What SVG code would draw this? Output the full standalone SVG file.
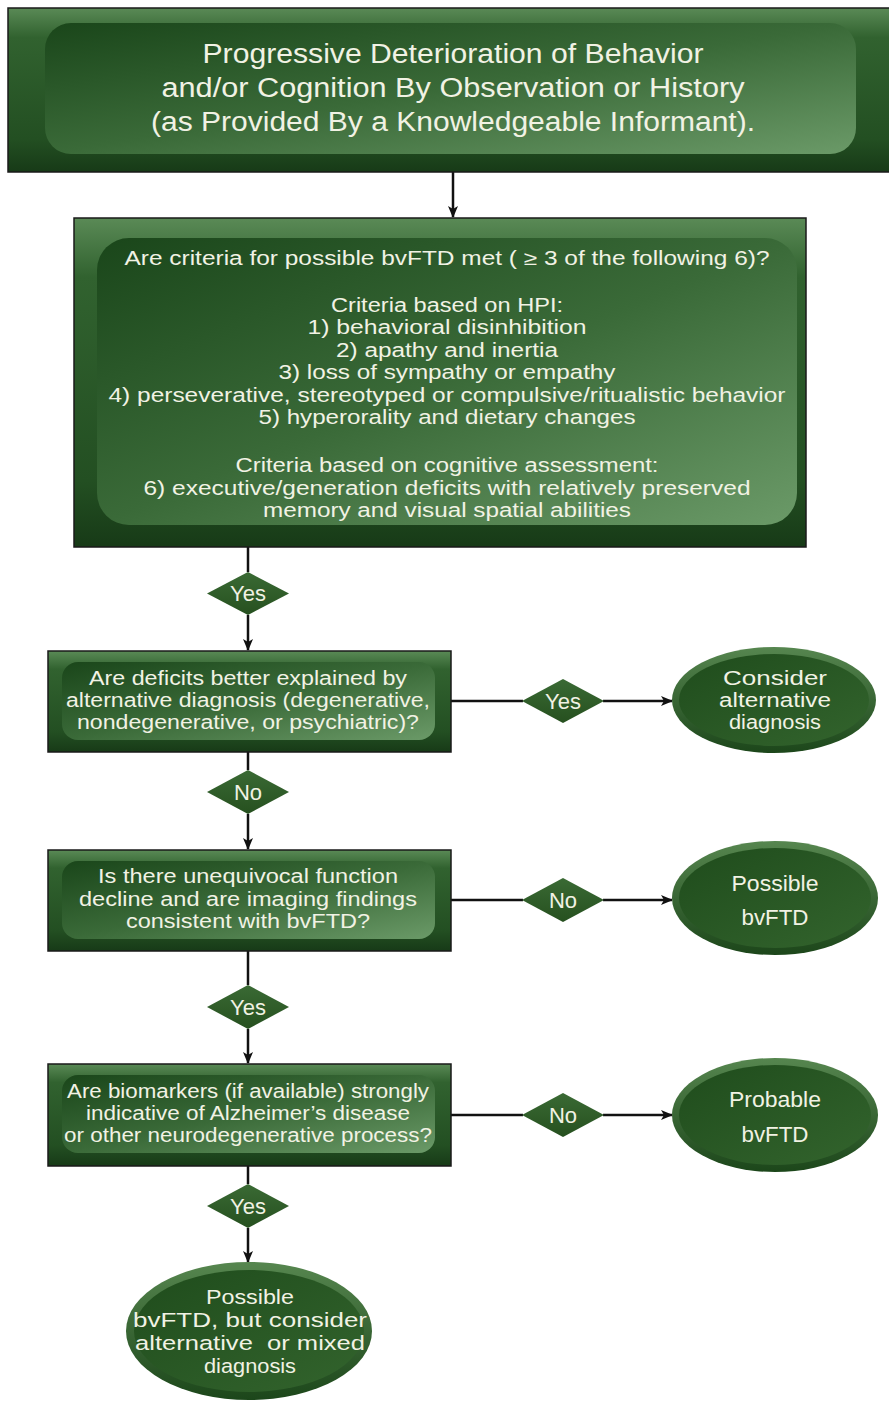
<svg xmlns="http://www.w3.org/2000/svg" width="889" height="1403" viewBox="0 0 889 1403">
<style>
.t{font-family:"Liberation Sans",Arial,sans-serif;fill:#f1f2e4;text-anchor:middle}
.t27{font-size:27px}
.t19{font-size:19.5px}
.t20{font-size:20.5px}
.t22{font-size:22px}
.outer{fill:url(#gOuter);stroke:#1a1a1a;stroke-width:1.5}
.inner{fill:url(#gInner)}
.dia{fill:url(#gDia)}
.ellO{fill:url(#gEllO)}
.ellI{fill:url(#gEllI)}
.ln{fill:none;stroke:#111;stroke-width:2.5}
</style>
<defs>
<linearGradient id="gOuter" x1="0" y1="0" x2="0" y2="1">
<stop offset="0" stop-color="#5a8a56"/>
<stop offset="0.18" stop-color="#31622f"/>
<stop offset="0.8" stop-color="#234f22"/>
<stop offset="1" stop-color="#173a17"/>
</linearGradient>
<linearGradient id="gInner" x1="0" y1="0" x2="1" y2="1">
<stop offset="0" stop-color="#1a461a"/>
<stop offset="0.5" stop-color="#3a6a38"/>
<stop offset="1" stop-color="#6b9a68"/>
</linearGradient>
<linearGradient id="gDia" x1="0" y1="0" x2="0" y2="1">
<stop offset="0" stop-color="#3a6a34"/>
<stop offset="1" stop-color="#26501f"/>
</linearGradient>
<linearGradient id="gEllO" x1="0" y1="0" x2="0" y2="1">
<stop offset="0" stop-color="#56864f"/>
<stop offset="1" stop-color="#1c461a"/>
</linearGradient>
<linearGradient id="gEllI" x1="0" y1="0" x2="1" y2="1">
<stop offset="0" stop-color="#1f4c1c"/>
<stop offset="1" stop-color="#33642d"/>
</linearGradient>
<marker id="arr" viewBox="0 0 12 10" markerWidth="12" markerHeight="10" refX="11" refY="5" orient="auto" markerUnits="userSpaceOnUse">
<path d="M0,0 L12,5 L0,10 L3,5 Z" fill="#111"/>
</marker>
</defs>
<rect width="889" height="1403" fill="#ffffff"/>

<g id="connectors">
<path class="ln" d="M453,172 V217" marker-end="url(#arr)"/>
<path class="ln" d="M248,547 V572"/>
<path class="ln" d="M248,615 V650" marker-end="url(#arr)"/>
<path class="ln" d="M248,752 V770"/>
<path class="ln" d="M248,814 V849" marker-end="url(#arr)"/>
<path class="ln" d="M248,951 V985"/>
<path class="ln" d="M248,1029 V1063" marker-end="url(#arr)"/>
<path class="ln" d="M248,1166 V1184"/>
<path class="ln" d="M248,1228 V1262" marker-end="url(#arr)"/>
<path class="ln" d="M451,701 H523"/>
<path class="ln" d="M603,701 H672" marker-end="url(#arr)"/>
<path class="ln" d="M451,900 H523"/>
<path class="ln" d="M603,900 H672" marker-end="url(#arr)"/>
<path class="ln" d="M451,1115 H523"/>
<path class="ln" d="M603,1115 H672" marker-end="url(#arr)"/>
</g>

<g id="start">
<rect class="outer" x="8" y="8" width="890" height="164"/>
<rect class="inner" x="45" y="23" width="811" height="131" rx="26"/>
<text class="t t27" x="453" y="63" textLength="501" lengthAdjust="spacingAndGlyphs">Progressive Deterioration of Behavior</text>
<text class="t t27" x="453" y="97" textLength="583" lengthAdjust="spacingAndGlyphs">and/or Cognition By Observation or History</text>
<text class="t t27" x="453" y="131" textLength="604" lengthAdjust="spacingAndGlyphs">(as Provided By a Knowledgeable Informant).</text>
</g>

<g id="criteria">
<rect class="outer" x="74" y="218" width="732" height="329"/>
<rect class="inner" x="97" y="238" width="700" height="287" rx="32"/>
<text class="t t19" x="447" y="265" textLength="645" lengthAdjust="spacingAndGlyphs">Are criteria for possible bvFTD met ( ≥ 3 of the following 6)?</text>
<text class="t t19" x="447" y="312" textLength="232" lengthAdjust="spacingAndGlyphs">Criteria based on HPI:</text>
<text class="t t19" x="447" y="334" textLength="279" lengthAdjust="spacingAndGlyphs">1) behavioral disinhibition</text>
<text class="t t19" x="447" y="356.5" textLength="222" lengthAdjust="spacingAndGlyphs">2) apathy and inertia</text>
<text class="t t19" x="447" y="379" textLength="337" lengthAdjust="spacingAndGlyphs">3) loss of sympathy or empathy</text>
<text class="t t19" x="447" y="401.5" textLength="677" lengthAdjust="spacingAndGlyphs">4) perseverative, stereotyped or compulsive/ritualistic behavior</text>
<text class="t t19" x="447" y="424" textLength="377" lengthAdjust="spacingAndGlyphs">5) hyperorality and dietary changes</text>
<text class="t t19" x="447" y="472" textLength="423" lengthAdjust="spacingAndGlyphs">Criteria based on cognitive assessment:</text>
<text class="t t19" x="447" y="494.5" textLength="607" lengthAdjust="spacingAndGlyphs">6) executive/generation deficits with relatively preserved</text>
<text class="t t19" x="447" y="517" textLength="368" lengthAdjust="spacingAndGlyphs">memory and visual spatial abilities</text>
</g>

<g id="d-yes1">
<polygon class="dia" points="248,572 289,593.5 248,615 207,593.5"/>
<text class="t t22" x="248" y="601">Yes</text>
</g>

<g id="q-alternative">
<rect class="outer" x="48" y="651" width="403" height="101"/>
<rect class="inner" x="62" y="662" width="373" height="78" rx="16"/>
<text class="t t19" x="248" y="685" textLength="318" lengthAdjust="spacingAndGlyphs">Are deficits better explained by</text>
<text class="t t19" x="248" y="707" textLength="364" lengthAdjust="spacingAndGlyphs">alternative diagnosis (degenerative,</text>
<text class="t t19" x="248" y="729" textLength="342" lengthAdjust="spacingAndGlyphs">nondegenerative, or psychiatric)?</text>
</g>

<g id="d-yes2">
<polygon class="dia" points="563,679 604,701 563,723 522,701"/>
<text class="t t22" x="563" y="709">Yes</text>
</g>

<g id="e-consider">
<ellipse class="ellO" cx="774" cy="700" rx="102" ry="53"/>
<ellipse class="ellI" cx="774" cy="700" rx="95" ry="46"/>
<text class="t t19" x="775" y="685" textLength="104" lengthAdjust="spacingAndGlyphs">Consider</text>
<text class="t t19" x="775" y="707" textLength="112" lengthAdjust="spacingAndGlyphs">alternative</text>
<text class="t t19" x="775" y="729" textLength="92" lengthAdjust="spacingAndGlyphs">diagnosis</text>
</g>

<g id="d-no1">
<polygon class="dia" points="248,770 289,792 248,814 207,792"/>
<text class="t t22" x="248" y="800">No</text>
</g>

<g id="q-function">
<rect class="outer" x="48" y="850" width="403" height="101"/>
<rect class="inner" x="62" y="861" width="373" height="78" rx="16"/>
<text class="t t19" x="248" y="883" textLength="300" lengthAdjust="spacingAndGlyphs">Is there unequivocal function</text>
<text class="t t19" x="248" y="906" textLength="338" lengthAdjust="spacingAndGlyphs">decline and are imaging findings</text>
<text class="t t19" x="248" y="928" textLength="244" lengthAdjust="spacingAndGlyphs">consistent with bvFTD?</text>
</g>

<g id="d-no2">
<polygon class="dia" points="563,878 604,900 563,922 522,900"/>
<text class="t t22" x="563" y="908">No</text>
</g>

<g id="e-possible">
<ellipse class="ellO" cx="775" cy="898" rx="103" ry="57"/>
<ellipse class="ellI" cx="775" cy="898" rx="96" ry="50"/>
<text class="t t22" x="775" y="891" textLength="87" lengthAdjust="spacingAndGlyphs">Possible</text>
<text class="t t22" x="775" y="925" textLength="67" lengthAdjust="spacingAndGlyphs">bvFTD</text>
</g>

<g id="d-yes3">
<polygon class="dia" points="248,985 289,1007 248,1029 207,1007"/>
<text class="t t22" x="248" y="1015">Yes</text>
</g>

<g id="q-biomarkers">
<rect class="outer" x="48" y="1064" width="403" height="102"/>
<rect class="inner" x="62" y="1075" width="373" height="78" rx="16"/>
<text class="t t19" x="248" y="1098" textLength="362" lengthAdjust="spacingAndGlyphs">Are biomarkers (if available) strongly</text>
<text class="t t19" x="248" y="1120" textLength="324" lengthAdjust="spacingAndGlyphs">indicative of Alzheimer’s disease</text>
<text class="t t19" x="248" y="1142" textLength="368" lengthAdjust="spacingAndGlyphs">or other neurodegenerative process?</text>
</g>

<g id="d-no3">
<polygon class="dia" points="563,1093 604,1115 563,1137 522,1115"/>
<text class="t t22" x="563" y="1123">No</text>
</g>

<g id="e-probable">
<ellipse class="ellO" cx="775" cy="1115" rx="103" ry="57"/>
<ellipse class="ellI" cx="775" cy="1115" rx="96" ry="50"/>
<text class="t t22" x="775" y="1107" textLength="92" lengthAdjust="spacingAndGlyphs">Probable</text>
<text class="t t22" x="775" y="1142" textLength="67" lengthAdjust="spacingAndGlyphs">bvFTD</text>
</g>

<g id="d-yes4">
<polygon class="dia" points="248,1184 289,1206 248,1228 207,1206"/>
<text class="t t22" x="248" y="1214">Yes</text>
</g>

<g id="e-mixed">
<ellipse class="ellO" cx="249" cy="1331" rx="123" ry="69"/>
<ellipse class="ellI" cx="249" cy="1331" rx="115" ry="61"/>
<text class="t t20" x="250" y="1304" textLength="88" lengthAdjust="spacingAndGlyphs">Possible</text>
<text class="t t20" x="250" y="1327" textLength="234" lengthAdjust="spacingAndGlyphs">bvFTD, but consider</text>
<text class="t t20" x="250" y="1350" xml:space="preserve" textLength="230" lengthAdjust="spacingAndGlyphs">alternative  or mixed</text>
<text class="t t20" x="250" y="1373" textLength="92" lengthAdjust="spacingAndGlyphs">diagnosis</text>
</g>
</svg>
